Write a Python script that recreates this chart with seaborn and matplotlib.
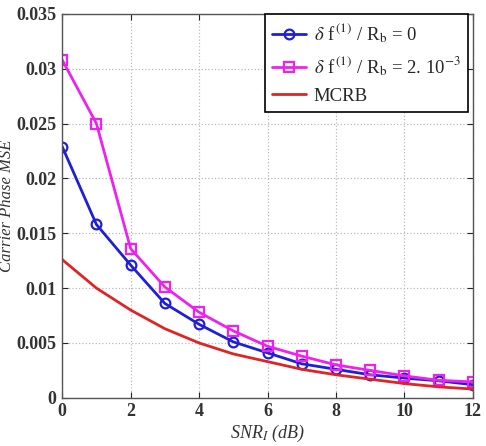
import numpy as np
import pandas as pd
import seaborn as sns
from matplotlib import pyplot as plt

snr = [0, 1, 2, 3, 4, 5, 6, 7, 8, 9, 10, 11, 12]
mse_df0 = [0.0229, 0.0158, 0.0121, 0.0086, 0.0067, 0.0051, 0.0041, 0.0031,
           0.0026, 0.0021, 0.0018, 0.00155, 0.0012]
mse_df2 = [0.0308, 0.0250, 0.0136, 0.0101, 0.0078, 0.0061, 0.0047, 0.0038,
           0.0030, 0.0025, 0.0020, 0.0016, 0.00145]
mcrb = [0.0126, 0.0100, 0.0080, 0.0063, 0.0050, 0.0040, 0.0033, 0.0026,
        0.0021, 0.0017, 0.0013, 0.0010, 0.0008]

lbl0 = r'$\delta$ f$^{\,(1)}$ / R$_{\rm b}$ = 0'
lbl2 = r'$\delta$ f$^{\,(1)}$ / R$_{\rm b}$ = 2. 10$^{-3}$'
lbl3 = 'MCRB'


def main() -> int:
    sns.set_style('ticks')
    plt.rcParams['font.family'] = ['Liberation Serif', 'DejaVu Serif']
    plt.rcParams['mathtext.fontset'] = 'stix'

    fig = plt.figure(figsize=(4.86, 4.46), dpi=100)
    ax = fig.add_axes([0.128, 0.108, 0.845, 0.861])

    sns.lineplot(x=snr, y=mse_df0, ax=ax, color='#1f1fd8', lw=2,
                 marker='o', markersize=7, markerfacecolor='none',
                 markeredgecolor='#1f1fd8', markeredgewidth=1.6, label=lbl0)
    sns.lineplot(x=snr, y=mse_df2, ax=ax, color='#ee22ee', lw=2,
                 marker='s', markersize=6.5, markerfacecolor='none',
                 markeredgecolor='#ee22ee', markeredgewidth=1.6, label=lbl2)
    sns.lineplot(x=snr, y=mcrb, ax=ax, color='#e02424', lw=2, label=lbl3)

    ax.set_xlim(0, 12)
    ax.set_ylim(0, 0.035)
    ax.set_xticks(range(0, 13, 2))
    ax.set_yticks(np.arange(0, 0.0351, 0.005))
    ax.set_yticklabels(['0', '0.005', '0.01', '0.015', '0.02', '0.025',
                        '0.03', '0.035'])
    ax.grid(True, linestyle=':', color='#bbbbbb', lw=0.9)
    ax.tick_params(direction='in', top=True, right=True, labelsize=13,
                   length=4, pad=4)
    for lab in ax.get_xticklabels() + ax.get_yticklabels():
        lab.set_fontweight('bold')
        lab.set_color('#333333')
    for sp in ax.spines.values():
        sp.set_color('#555555')
        sp.set_linewidth(1.0)

    ax.set_xlabel(r'SNR$_{I}$ (dB)', fontsize=13, style='italic',
                  color='#333333', labelpad=2)
    ax.set_ylabel('Carrier Phase MSE', fontsize=12, style='italic',
                  color='#333333', labelpad=1)

    leg = ax.legend(loc='upper right', fontsize=13.5, frameon=True,
                    fancybox=False, edgecolor='black', framealpha=1,
                    borderaxespad=0.0, handlelength=1.8, handletextpad=0.4,
                    labelspacing=0.5, bbox_to_anchor=(0.988, 1.0))
    leg.get_frame().set_linewidth(1.2)

    fig.savefig('out.png', dpi=100)
    return 0


if __name__ == '__main__':
    raise SystemExit(main())
